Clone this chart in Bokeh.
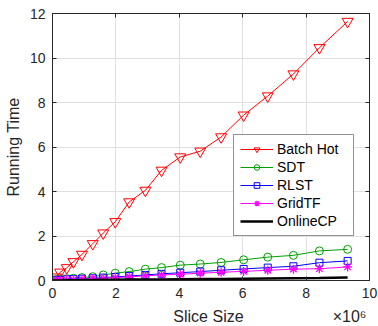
from bokeh.plotting import figure
from bokeh.models import Range1d, LinearAxis, FixedTicker, Legend
from bokeh.embed import file_html
from bokeh.resources import INLINE

# Slice size (x 10^6)
slice_size = [0.02, 0.11, 0.24, 0.45, 0.66, 0.93, 1.27, 1.60, 1.98, 2.42,
              2.93, 3.44, 4.03, 4.66, 5.32, 6.03, 6.79, 7.60, 8.42, 9.31]
batch_hot = [0.05, 0.15, 0.37, 0.57, 0.84, 1.17, 1.65, 2.13, 2.64, 3.53,
             4.05, 4.95, 5.55, 5.81, 6.45, 7.43, 8.29, 9.28, 10.46, 11.64]
sdt = [0.01, 0.03, 0.06, 0.08, 0.10, 0.13, 0.17, 0.25, 0.33, 0.40,
       0.51, 0.58, 0.69, 0.74, 0.81, 0.93, 1.05, 1.13, 1.33, 1.40]
rlst = [0.01, 0.02, 0.03, 0.05, 0.06, 0.08, 0.10, 0.13, 0.16, 0.20,
        0.25, 0.30, 0.35, 0.40, 0.46, 0.52, 0.58, 0.64, 0.80, 0.88]
gridtf = [0.0, 0.01, 0.02, 0.03, 0.04, 0.06, 0.08, 0.10, 0.13, 0.16,
          0.21, 0.25, 0.28, 0.33, 0.37, 0.41, 0.46, 0.51, 0.53, 0.61]
onlinecp = [0.0, 0.003, 0.005, 0.01, 0.015, 0.02, 0.025, 0.03, 0.035, 0.04,
            0.045, 0.05, 0.06, 0.065, 0.07, 0.08, 0.09, 0.10, 0.11, 0.13]

x_ticks = [0, 2, 4, 6, 8, 10]
y_ticks = [0, 2, 4, 6, 8, 10, 12]
x_title = "Slice Size"
x_exponent = "\u00d710\u2076"
y_title = "Running Time"

FONT = "Liberation Sans"
AX = "#262626"

p = figure(width=378, height=326, frame_width=317, frame_height=267,
           min_border_left=52, min_border_right=9, min_border_top=13, min_border_bottom=46,
           x_range=Range1d(0, 10), y_range=Range1d(0, 12),
           output_backend="svg", toolbar_location=None,
           y_axis_label=y_title)
p.extra_x_ranges = {"lab": Range1d(0, 1000)}
p.outline_line_color = AX
p.outline_line_width = 1

for ax in (p.xaxis[0], p.yaxis[0]):
    ax.axis_line_color = AX
    ax.major_tick_line_color = AX
    ax.major_tick_in = 4
    ax.major_tick_out = 0
    ax.minor_tick_line_color = None
    ax.major_label_text_font = FONT
    ax.major_label_text_font_size = "14px"
    ax.major_label_text_color = AX
    ax.axis_label_text_font = FONT
    ax.axis_label_text_font_size = "16px"
    ax.axis_label_text_font_style = "normal"
    ax.axis_label_text_color = AX

p.xaxis[0].ticker = FixedTicker(ticks=x_ticks)
p.yaxis[0].ticker = FixedTicker(ticks=y_ticks)
p.xaxis[0].major_label_standoff = 7
p.yaxis[0].major_label_standoff = 7
p.yaxis[0].axis_label_standoff = 5

# second row below the x axis: axis title and the x10^6 multiplier
lab = LinearAxis(x_range_name="lab", ticker=FixedTicker(ticks=[492, 937]),
                 major_label_overrides={492: x_title, 937: x_exponent})
lab.axis_line_color = None
lab.major_tick_line_color = None
lab.major_tick_in = 0
lab.major_tick_out = 0
lab.minor_tick_line_color = None
lab.major_label_standoff = 7
lab.major_label_text_font = FONT
lab.major_label_text_font_size = "16px"
lab.major_label_text_color = AX
p.add_layout(lab, "below")

top = LinearAxis(ticker=FixedTicker(ticks=x_ticks))
right = LinearAxis(ticker=FixedTicker(ticks=y_ticks))
for ax in (top, right):
    ax.axis_line_color = AX
    ax.major_tick_line_color = AX
    ax.major_tick_in = 4
    ax.major_tick_out = 0
    ax.minor_tick_line_color = None
    ax.major_label_text_font_size = "0px"
    ax.major_label_standoff = 0
    ax.major_label_text_color = None
p.add_layout(top, "above")
p.add_layout(right, "right")

p.xgrid.ticker = FixedTicker(ticks=x_ticks)
p.ygrid.ticker = FixedTicker(ticks=y_ticks)
p.grid.grid_line_color = "#e0e0e0"
p.grid.grid_line_width = 1

RED, GREEN, BLUE, MAG = "#ff0000", "#00a000", "#0000ff", "#ff00ff"

r1 = p.line(slice_size, batch_hot, line_color=RED, line_width=1)
m1 = p.scatter(slice_size, batch_hot, marker="inverted_triangle", size=11,
               line_color=RED, fill_color=None, line_width=1)
r2 = p.line(slice_size, sdt, line_color=GREEN, line_width=1)
m2 = p.scatter(slice_size, sdt, marker="circle", size=8,
               line_color=GREEN, fill_color=None, line_width=1)
r3 = p.line(slice_size, rlst, line_color=BLUE, line_width=1)
m3 = p.scatter(slice_size, rlst, marker="square", size=7,
               line_color=BLUE, fill_color=None, line_width=1)
r4 = p.line(slice_size, gridtf, line_color=MAG, line_width=1)
m4 = p.scatter(slice_size, gridtf, marker="asterisk", size=9,
               line_color=MAG, line_width=1.3)
r5 = p.line(slice_size, onlinecp, line_color="black", line_width=2.5)

legend = Legend(items=[("Batch Hot", [r1, m1]), ("SDT", [r2, m2]),
                       ("RLST", [r3, m3]), ("GridTF", [r4, m4]),
                       ("OnlineCP", [r5])],
                location=(181, 44))
legend.label_text_font = FONT
legend.label_text_font_size = "14px"
legend.label_text_color = "black"
legend.glyph_width = 33
legend.glyph_height = 14
legend.label_height = 14
legend.label_width = 70
legend.label_standoff = 4
legend.spacing = 2
legend.padding = 6
legend.margin = 0
legend.border_line_color = AX
legend.border_line_width = 1
legend.background_fill_color = "white"
legend.background_fill_alpha = 1
p.add_layout(legend, "center")

open("out.html", "w").write(file_html(p, INLINE))
